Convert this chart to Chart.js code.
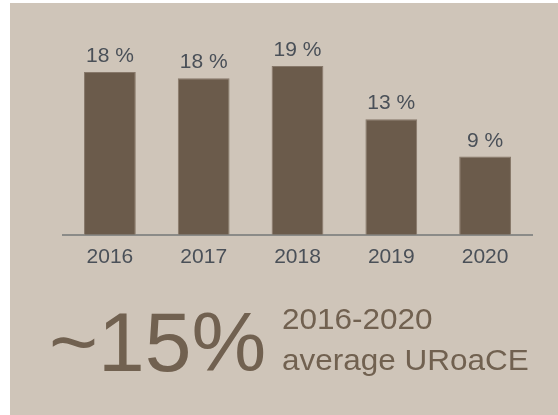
<!DOCTYPE html>
<html>
<head>
<meta charset="utf-8">
<script src="https://cdn.jsdelivr.net/npm/chart.js@4.4.0/dist/chart.umd.min.js"></script>
<style>
  html, body { margin: 0; padding: 0; background: #ffffff; }
  body { width: 558px; height: 415px; position: relative; overflow: hidden; font-family: "Liberation Sans", Arial, sans-serif; }
  .panel { position: absolute; left: 10px; top: 3px; right: 0; bottom: 0; background: #cfc5b9; }
  #uroaceChart { position: absolute; left: 0; top: 0; }
  .big { position: absolute; left: 49px; top: 300px; font-size: 84px; line-height: 1; color: #716150; white-space: nowrap; }
  .sub { position: absolute; left: 282px; top: 298px; font-size: 30px; line-height: 41px; color: #716150; white-space: nowrap;
         transform: scaleX(1.05); transform-origin: left top; }
</style>
</head>
<body>
<div class="panel"></div>
<canvas id="uroaceChart" width="558" height="300"></canvas>
<div class="big">~15%</div>
<div class="sub">2016-2020<br>average URoaCE</div>

<script>
/* UROACE by year */

const years = ['2016', '2017', '2018', '2019', '2020'];
const uroace = [18.3, 17.6, 19.0, 13.0, 8.8]; // percent

const barColor = '#6b5b4b';
const textColor = '#4a5058';

// writes "18 %" etc above each bar
const valueLabels = {
    id: 'valueLabels',
    afterDatasetsDraw(chart) {
        const ctx = chart.ctx;
        const meta = chart.getDatasetMeta(0);
        ctx.save();
        ctx.font = '21px "Liberation Sans", Arial, sans-serif';
        ctx.fillStyle = textColor;
        ctx.textAlign = 'center';
        ctx.textBaseline = 'alphabetic';
        meta.data.forEach((bar, i) => {
            const v = chart.data.datasets[0].data[i];
            ctx.fillText(Math.round(v) + ' %', bar.x, bar.y - 10);
        });
        ctx.restore();
    }
};

document.addEventListener('DOMContentLoaded', () => {
    const ctx = document.getElementById('uroaceChart');

    new Chart(ctx, {
        type: 'bar',
        data: {
            labels: years,
            datasets: [{
                data: uroace,
                backgroundColor: barColor,
                borderColor: '#87786a',
                borderWidth: 1,
                categoryPercentage: 1,
                barPercentage: 0.552
            }]
        },
        options: {
            responsive: false,
            animation: false,
            layout: {
                padding: { left: 63, right: 26, top: 57, bottom: 20 }
            },
            scales: {
                x: {
                    grid: { display: false, drawTicks: false, tickLength: 0 },
                    border: { display: true, color: '#8b8b88', width: 2 },
                    ticks: {
                        color: textColor,
                        padding: 10,
                        font: { family: '"Liberation Sans", Arial, sans-serif', size: 21 }
                    }
                },
                y: {
                    display: false,
                    min: 0,
                    max: 20
                }
            },
            plugins: {
                legend: { display: false },
                tooltip: { enabled: false }
            }
        },
        plugins: [valueLabels]
    });
});
</script>
</body>
</html>
